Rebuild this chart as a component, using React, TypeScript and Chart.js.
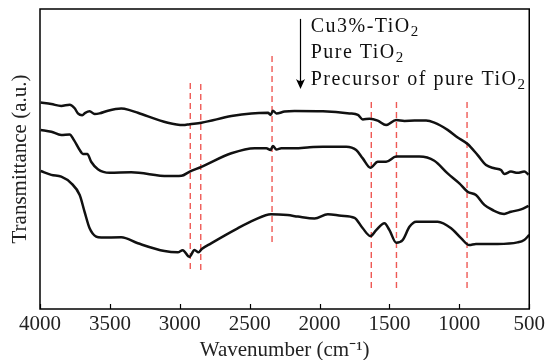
import React, { useEffect, useRef } from "react";
import { Chart, registerables } from "chart.js";

Chart.register(...registerables);

const FONT = "'Liberation Serif', 'Times New Roman', serif";

// Wavenumber axis ticks (cm^-1)
const xTickValues = [4000, 3500, 3000, 2500, 2000, 1500, 1000, 500];

// Cu3%-TiO2 (top curve)
const cuWn = [3995, 3919, 3848, 3788, 3752, 3729, 3698, 3676, 3645, 3609, 3574, 3514, 3419, 3359, 3300, 3086, 2976, 2929, 2845, 2631, 2488, 2369, 2350, 2334, 2309, 2250, 2179, 1976, 1786, 1726, 1691, 1643, 1584, 1524, 1452, 1393, 1321, 1238, 1179, 1084, 1012, 941, 869, 809, 750, 702, 679, 631, 584, 536, 505];
const cuT = [68.8, 68.3, 67.7, 68.1, 66.9, 65.2, 64.6, 65.4, 65.9, 65.0, 65.2, 66.1, 66.8, 66.3, 65.4, 62.1, 61.3, 61.6, 62.1, 64.3, 65.2, 65.4, 64.7, 66.1, 65.2, 65.8, 66.0, 65.9, 65.2, 64.7, 63.2, 63.4, 62.8, 61.3, 63.0, 62.7, 62.8, 62.8, 62.1, 59.7, 57.2, 55.0, 51.3, 48.0, 46.9, 46.3, 45.0, 45.8, 45.4, 45.8, 44.8];

// Pure TiO2 (middle curve)
const pureWn = [3995, 3919, 3848, 3788, 3757, 3716, 3693, 3662, 3634, 3586, 3502, 3348, 3086, 2988, 2929, 2845, 2631, 2464, 2381, 2350, 2334, 2309, 2274, 2179, 2071, 1976, 1809, 1738, 1691, 1636, 1584, 1524, 1452, 1405, 1286, 1179, 1084, 1000, 941, 881, 821, 762, 679, 631, 559, 505];
const pureT = [59.7, 59.1, 58.0, 58.2, 56.3, 53.0, 51.7, 51.7, 49.1, 46.6, 45.4, 45.6, 44.3, 44.4, 45.8, 47.4, 51.9, 53.6, 53.6, 53.0, 54.3, 53.2, 53.6, 53.6, 53.9, 54.1, 54.1, 53.0, 50.2, 47.1, 49.1, 49.1, 50.8, 50.8, 50.8, 49.4, 45.2, 41.9, 39.1, 38.0, 34.7, 33.0, 31.7, 32.4, 33.2, 34.4];

// Precursor of pure TiO2 (bottom curve)
const precWn = [3995, 3919, 3848, 3776, 3716, 3681, 3645, 3598, 3562, 3419, 3300, 3109, 3014, 2979, 2931, 2895, 2866, 2843, 2776, 2586, 2466, 2348, 2229, 2155, 2036, 1941, 1845, 1750, 1691, 1636, 1595, 1536, 1500, 1452, 1405, 1357, 1309, 1155, 1059, 988, 929, 881, 726, 584, 536, 500];
const precT = [46.0, 44.7, 44.1, 41.9, 38.0, 32.4, 26.9, 24.1, 23.8, 23.9, 21.9, 19.3, 18.9, 19.6, 17.4, 19.7, 18.9, 20.0, 21.9, 26.9, 29.7, 31.6, 31.3, 30.8, 30.2, 31.6, 31.1, 30.4, 26.9, 24.3, 26.3, 28.6, 26.3, 22.1, 23.0, 27.4, 29.1, 29.1, 26.9, 23.6, 21.3, 21.7, 21.7, 22.2, 23.0, 24.7];

// Marker (dashed) lines: wavenumber, top and bottom transmittance
const markWn = [2925, 2850, 2340, 1630, 1450, 945];
const markTop = [75.3, 75.0, 84.3, 69.0, 69.0, 69.0];
const markBottom = [13.0, 12.7, 22.3, 7.0, 7.0, 7.0];

// Annotation (legend text with arrow)
const legendMain = ["Cu3%-TiO", "Pure TiO", "Precursor of pure TiO"];
const legendSub = ["2", "2", "2"];
const legendWn = 2064;
const legendT = [92.4, 83.8, 74.8];
const arrowWn = 2143;
const arrowTopT = 96.7;
const arrowTipT = 73.3;

const toPts = (xs: number[], ys: number[]) => xs.map((x, i) => ({ x, y: ys[i] }));

const curveStyle = {
  borderColor: "#111",
  borderWidth: 2.5,
  pointRadius: 0,
  fill: false,
  cubicInterpolationMode: "monotone" as const,
};

const framePlugin = {
  id: "frameAndNotes",
  afterDatasetsDraw(chart: any) {
    const { ctx, chartArea: a, scales } = chart;
    const xs = scales.x;
    const ys = scales.y;
    ctx.save();
    // inward tick marks on bottom axis
    ctx.strokeStyle = "#000";
    ctx.lineWidth = 1.2;
    for (const t of xs.ticks) {
      const px = Math.round(xs.getPixelForValue(t.value)) + 0.5;
      ctx.beginPath();
      ctx.moveTo(px, a.bottom);
      ctx.lineTo(px, a.bottom - 5);
      ctx.stroke();
    }
    // frame
    ctx.lineWidth = 1.5;
    ctx.strokeRect(a.left, a.top, a.right - a.left, a.bottom - a.top);

    // arrow
    const ax = Math.round(xs.getPixelForValue(arrowWn)) + 0.5;
    const aTop = ys.getPixelForValue(arrowTopT);
    const aTip = ys.getPixelForValue(arrowTipT);
    ctx.lineWidth = 1.2;
    ctx.beginPath();
    ctx.moveTo(ax, aTop);
    ctx.lineTo(ax, aTip - 6);
    ctx.stroke();
    ctx.fillStyle = "#000";
    ctx.beginPath();
    ctx.moveTo(ax, aTip);
    ctx.lineTo(ax - 4.5, aTip - 10);
    ctx.quadraticCurveTo(ax, aTip - 6, ax + 4.5, aTip - 10);
    ctx.closePath();
    ctx.fill();

    // legend text
    const lx = xs.getPixelForValue(legendWn);
    ctx.fillStyle = "#111";
    ctx.textBaseline = "alphabetic";
    ctx.textAlign = "left";
    for (let i = 0; i < legendMain.length; i++) {
      const ly = ys.getPixelForValue(legendT[i]);
      ctx.font = `20px ${FONT}`;
      (ctx as any).letterSpacing = "1.5px";
      ctx.fillText(legendMain[i], lx, ly);
      const w = ctx.measureText(legendMain[i]).width;
      ctx.font = `15px ${FONT}`;
      (ctx as any).letterSpacing = "0px";
      ctx.fillText(legendSub[i], lx + w, ly + 4);
    }
    ctx.restore();
  },
};

export default function App() {
  const ref = useRef<HTMLCanvasElement>(null);
  useEffect(() => {
    const markerSets = markWn.map((w, i) => ({
      data: [
        { x: w, y: markTop[i] },
        { x: w, y: markBottom[i] },
      ],
      borderColor: "rgba(235,60,55,0.85)",
      borderWidth: 1.4,
      borderDash: [6, 4],
      pointRadius: 0,
      fill: false,
    }));
    const chart = new Chart(ref.current!, {
      type: "line",
      data: {
        datasets: [
          { data: toPts(cuWn, cuT), ...curveStyle },
          { data: toPts(pureWn, pureT), ...curveStyle },
          { data: toPts(precWn, precT), ...curveStyle },
          ...markerSets,
        ],
      },
      options: {
        responsive: false,
        devicePixelRatio: 1,
        animation: false,
        events: [],
        layout: { padding: { top: 9, right: 18, left: 0, bottom: 0 } },
        plugins: { legend: { display: false }, tooltip: { enabled: false } },
        scales: {
          x: {
            type: "linear",
            reverse: true,
            min: 500,
            max: 4000,
            afterBuildTicks: (s: any) => {
              s.ticks = xTickValues.map((v) => ({ value: v }));
            },
            afterFit: (s: any) => {
              s.height = 51;
            },
            grid: { display: false, drawTicks: false },
            border: { display: false },
            ticks: {
              color: "#222",
              font: { family: FONT, size: 21 },
              padding: 3,
              maxRotation: 0,
              autoSkip: false,
              callback: (v: any) => String(v),
            },
            title: {
              display: true,
              text: "Wavenumber (cm\u207B\u00B9)",
              color: "#222",
              font: { family: FONT, size: 21 },
              padding: { top: 0, bottom: -3 },
            },
          },
          y: {
            min: 0,
            max: 100,
            afterFit: (s: any) => {
              s.width = 40;
            },
            grid: { display: false, drawTicks: false },
            border: { display: false },
            ticks: { display: false },
            title: {
              display: true,
              text: "Transmittance (a.u.)",
              color: "#222",
              font: { family: FONT, size: 21 },
              padding: { top: 8, bottom: 0 },
            },
          },
        },
      },
      plugins: [framePlugin],
    } as any);
    return () => chart.destroy();
  }, []);
  return (
    <div style={{ position: "fixed", left: 0, top: 0, width: 548, height: 360, background: "#fff" }}>
      <canvas ref={ref} width={548} height={360} style={{ display: "block", width: 548, height: 360 }} />
    </div>
  );
}
